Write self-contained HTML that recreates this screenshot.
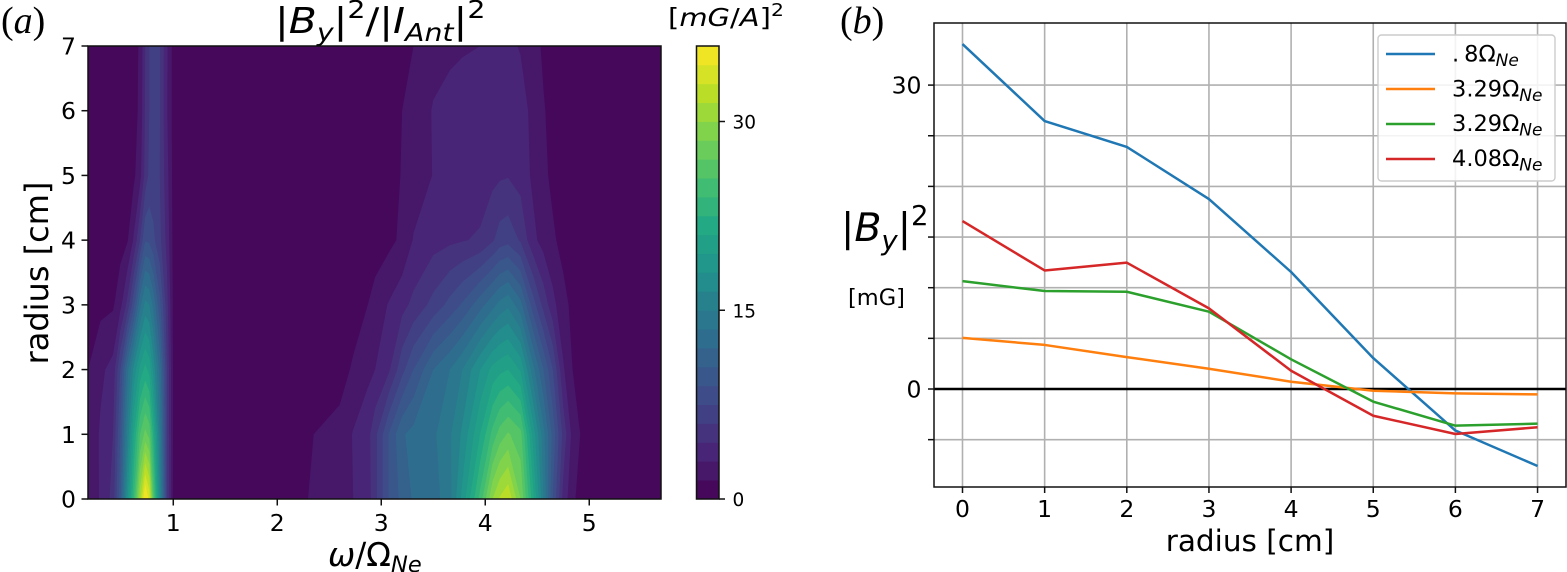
<!DOCTYPE html>
<html lang="en">
<head>
<meta charset="utf-8">
<title>Magnetic field spectrum and radial profiles</title>
<style>
html,body{margin:0;padding:0;background:#fff;}
svg{display:block;font-family:"DejaVu Sans","Liberation Sans",sans-serif;fill:#000;}
.serif{font-family:"Liberation Serif",serif;}
</style>
</head>
<body>
<svg id="fig" xmlns="http://www.w3.org/2000/svg" width="1567" height="572" viewBox="0 0 1567 572">
  <rect x="0" y="0" width="1567" height="572" fill="#fff"/>

  <text class="serif" x="1" y="33" font-size="38">(<tspan font-style="italic">a</tspan>)</text>
  <text class="serif" x="840" y="33" font-size="38">(<tspan font-style="italic">b</tspan>)</text>

  <text transform="translate(275,33) scale(1.135,1)" x="0" y="0" font-size="36">|<tspan font-style="italic">B</tspan><tspan font-size="25" font-style="italic" dy="8">y</tspan><tspan dy="-8">|</tspan><tspan font-size="25" dy="-15">2</tspan><tspan dy="15">/|</tspan><tspan font-style="italic">I</tspan><tspan font-size="25" font-style="italic" dy="8">Ant</tspan><tspan dy="-8">|</tspan><tspan font-size="25" dy="-15">2</tspan></text>

  <g id="contour"></g>
  <g id="leftAxes"></g>
  <text transform="translate(48,273) rotate(-90)" text-anchor="middle" font-size="32">radius [cm]</text>
  <text x="328" y="566" font-size="32.5"><tspan font-style="italic">ω</tspan>/Ω<tspan font-size="22.5" font-style="italic" dy="6">Ne</tspan></text>

  <g id="colorbar"></g>
  <text transform="translate(668,26) scale(1.16,1)" x="0" y="0" font-size="25">[<tspan font-style="italic">mG</tspan>/<tspan font-style="italic">A</tspan>]<tspan font-size="17.5" dy="-10">2</tspan></text>

  <g id="rightAxes"></g>
  <g id="rightLines"></g>
  <g id="rightFrame"></g>
  <text x="841" y="241" font-size="39.5">|<tspan font-style="italic">B</tspan><tspan font-size="27.5" font-style="italic" dy="9">y</tspan><tspan dy="-9">|</tspan><tspan font-size="27.5" dy="-16">2</tspan></text>
  <text x="848" y="305" font-size="22.5">[mG]</text>
  <text x="1250" y="551" text-anchor="middle" font-size="29.5">radius [cm]</text>

  <g>
    <rect x="1378" y="35" width="177" height="146" rx="3.5" ry="3.5" fill="#fff" fill-opacity="0.85" stroke="#cccccc" stroke-width="1.4"/>
    <line x1="1386" x2="1435" y1="54" y2="54" stroke="#1f77b4" stroke-width="2.5"/>
    <line x1="1386" x2="1435" y1="89" y2="89" stroke="#ff7f0e" stroke-width="2.5"/>
    <line x1="1386" x2="1435" y1="124" y2="124" stroke="#2ca02c" stroke-width="2.5"/>
    <line x1="1386" x2="1435" y1="159" y2="159" stroke="#d62728" stroke-width="2.5"/>
    <text x="1452" y="61.5" font-size="22.5">.<tspan dx="5">8Ω</tspan><tspan font-size="17" font-style="italic" dy="4.5">Ne</tspan></text>
    <text x="1452" y="96.5" font-size="22.5">3.29Ω<tspan font-size="17" font-style="italic" dy="4.5">Ne</tspan></text>
    <text x="1452" y="131" font-size="22.5">3.29Ω<tspan font-size="17" font-style="italic" dy="4.5">Ne</tspan></text>
    <text x="1452" y="166" font-size="22.5">4.08Ω<tspan font-size="17" font-style="italic" dy="4.5">Ne</tspan></text>
  </g>
</svg>

<script>
// ---- contour data: intensity [mG/A]^2 on a (frequency, radius) grid ----
const freqs = [0.18,0.3,0.42,0.49,0.56,0.62,0.68,0.73,0.77,0.81,0.87,0.94,1.0,1.1,2.2,2.35,2.6,2.73,2.87,2.94,3.07,3.2,3.31,3.5,3.66,3.78,3.95,4.07,4.14,4.22,4.34,4.46,4.56,4.65,4.75,4.84,4.95,5.69];
const radii = [0,1,2,3,4,5,6,7];
const powerR0 = [1.6,3.2,5,10,18,24,31,36.5,34,26,17,6,1.2,0.5,0.8,1.9,2.4,3,3.8,5.5,9,11,12.2,12.8,14.5,18.5,24.5,30,31.7,32.8,28.5,21.5,15,9,4,1.8,0.6,0.2];
const powerR1 = [1.8,3.2,4.5,9,15.5,21,25.5,27.5,26.5,22,15,6,1.3,0.5,0.4,1.5,2,3.1,4,5.5,9,11.8,12.5,13.2,14.8,16.8,21,24.5,26.2,27.2,26,19,14,10,5.5,2.5,1,0.2];
const powerR2 = [1.5,2.7,3.5,7.5,13,17,20,21.5,20.5,17.5,13,6,1.3,0.4,0.2,0.3,0.9,1.7,2.6,3,4.2,7,9,12,13.5,15,18,20,20.6,21,19.3,14,10.5,7.5,3.2,1.5,0.8,0.2];
const powerR3 = [0.8,1.1,1.3,2.5,5,8.5,13,15.5,15,13,9.5,5,1.2,0.4,0.1,0.1,0.3,0.8,1.5,2.1,3.1,4,4.9,6.5,8,9.2,11.4,13,14,14.7,12.5,8.2,5.5,3.5,1.9,1.2,0.6,0.1];
const powerR4 = [0.3,0.4,0.6,0.9,1.4,3.2,6,8.9,8.7,7.8,6.4,4,1.1,0.3,0.05,0.05,0.1,0.2,0.5,0.7,1.1,1.8,3.1,3.9,4.2,4.4,4.7,5.8,6.7,7,5.8,3.4,2.4,1.7,1.1,0.8,0.5,0.1];
const powerR5 = [0.2,0.2,0.3,0.5,0.9,1.2,2.5,5,6.4,6.7,6,3.5,1,0.3,0.05,0.05,0.05,0.1,0.2,0.3,0.8,1.6,2.2,3.05,3.2,3.4,3.7,4.1,4.3,4.4,3.9,2.7,1.8,1.2,0.8,0.5,0.3,0.1];
const powerR6 = [0.2,0.2,0.3,0.4,0.7,1,1.8,4.7,6,6.4,6.1,3.1,1,0.3,0.05,0.05,0.05,0.1,0.2,0.3,0.8,1.5,2.1,3.1,3.5,3.7,3.8,3.9,3.9,3.9,3.6,2.6,1.6,1.1,0.7,0.4,0.3,0.1];
const powerR7 = [0.2,0.2,0.3,0.4,0.6,1,1.7,4.5,6,6.2,6.1,3.2,1,0.3,0.05,0.05,0.05,0.1,0.2,0.3,0.6,1.1,1.5,2.5,2.7,2.85,3.0,3.4,3.4,3.3,2.9,2,1.3,0.9,0.6,0.4,0.3,0.1];
const powerRows = [powerR0,powerR1,powerR2,powerR3,powerR4,powerR5,powerR6,powerR7];
const contourXTicks = [1,2,3,4,5];
const contourYTicks = [0,1,2,3,4,5,6,7];
const colorbarTicks = [0,15,30];
const levelCount = 24;
const levelStep = 1.5;

// ---- line chart data ----
const radiusCategories = [0,1,2,3,4,5,6,7];
const seriesPoint8 = [34.05,26.45,23.9,18.75,11.55,3.05,-4.1,-7.6];
const series329a = [5.05,4.35,3.15,2.0,0.72,-0.17,-0.43,-0.53];
const series329b = [10.65,9.67,9.6,7.63,2.93,-1.25,-3.62,-3.42];
const series408 = [16.58,11.7,12.47,7.96,1.8,-2.64,-4.44,-3.78];
const lineXTicks = [0,1,2,3,4,5,6,7];
const lineYGrid = [-5,0,5,10,15,20,25,30];
const lineYLabels = {"0":"0","30":"30"};

const NS = 'http://www.w3.org/2000/svg';
function mk(tag, attrs, parent){
  const el = document.createElementNS(NS, tag);
  for (const k in attrs) el.setAttribute(k, attrs[k]);
  parent.appendChild(el);
  return el;
}
// viridis colormap anchors
const viridis = ['#440154','#482475','#414487','#355f8d','#2a788e','#21918c','#22a884','#44bf70','#7ad151','#bddf26','#fde725'];
function cmap(t){
  const p = Math.min(0.9999, Math.max(0, t)) * (viridis.length - 1);
  const i = Math.floor(p), f = p - i;
  const a = viridis[i], b = viridis[i + 1];
  const ch = s => [1,3,5].map(n => parseInt(s.substr(n, 2), 16));
  const A = ch(a), B = ch(b);
  return 'rgb(' + A.map((v, n) => Math.round(v + (B[n] - v) * f)).join(',') + ')';
}
function bandColor(k){ return cmap((k + 0.5) / levelCount); }

// ---- left panel axis functions ----
const L = {x0:88, x1:661, y0:499, y1:46};
const fMin = 0.18, fMax = 5.69, rMin = 0, rMax = 7;
const xF = f => L.x0 + (f - fMin) * (L.x1 - L.x0) / (fMax - fMin);
const yR = r => L.y0 - (r - rMin) * (L.y0 - L.y1) / (rMax - rMin);

// Filled contours: each band draws region z >= level over the previous band.
const contourG = document.getElementById('contour');
function clipCell(pts, level){
  const out = [];
  for (let i = 0; i < pts.length; i++){
    const a = pts[i], b = pts[(i + 1) % pts.length];
    const ina = a[2] >= level, inb = b[2] >= level;
    if (ina) out.push(a);
    if (ina !== inb){
      const t = (level - a[2]) / (b[2] - a[2]);
      out.push([a[0] + (b[0] - a[0]) * t, a[1] + (b[1] - a[1]) * t, level]);
    }
  }
  return out;
}
for (let k = 0; k < levelCount; k++){
  const level = k * levelStep;
  let d = '';
  for (let j = 0; j < radii.length - 1; j++){
    for (let i = 0; i < freqs.length - 1; i++){
      const cell = [
        [xF(freqs[i]),     yR(radii[j]),     powerRows[j][i]],
        [xF(freqs[i + 1]), yR(radii[j]),     powerRows[j][i + 1]],
        [xF(freqs[i + 1]), yR(radii[j + 1]), powerRows[j + 1][i + 1]],
        [xF(freqs[i]),     yR(radii[j + 1]), powerRows[j + 1][i]]
      ];
      const poly = clipCell(cell, level);
      if (poly.length > 2){
        d += 'M' + poly.map(p => p[0].toFixed(2) + ' ' + p[1].toFixed(2)).join('L') + 'Z';
      }
    }
  }
  if (!d) continue;
  const band = mk('path', {d: d, fill: bandColor(k)}, contourG);
  
  
}

// left axes
const leftAxes = document.getElementById('leftAxes');
const frameL = mk('rect', {x:L.x0, y:L.y1, width:L.x1 - L.x0, height:L.y0 - L.y1, fill:'none', stroke:'#111', 'stroke-width':1.5}, leftAxes);


contourXTicks.forEach(v => {
  const t = mk('line', {x1:xF(v), x2:xF(v), y1:L.y0, y2:L.y0 + 6.5, stroke:'#111', 'stroke-width':1.5}, leftAxes);
  
  
  const lbl = mk('text', {x:xF(v), y:531, 'text-anchor':'middle', 'font-size':23.5}, leftAxes);
  lbl.textContent = v;
  
  
});
contourYTicks.forEach(v => {
  const t = mk('line', {x1:L.x0 - 6.5, x2:L.x0, y1:yR(v), y2:yR(v), stroke:'#111', 'stroke-width':1.5}, leftAxes);
  
  
  const lbl = mk('text', {x:76, y:yR(v) + 8.5, 'text-anchor':'end', 'font-size':23.5}, leftAxes);
  lbl.textContent = v;
  
  
});

// colorbar
const CB = {x0:696.5, x1:719, y0:499, y1:46};
const yC = v => CB.y0 - v * (CB.y0 - CB.y1) / (levelCount * levelStep);
const cbG = document.getElementById('colorbar');
for (let k = 0; k < levelCount; k++){
  const r = mk('rect', {x:CB.x0, y:yC((k + 1) * levelStep), width:CB.x1 - CB.x0, height:yC(k * levelStep) - yC((k + 1) * levelStep) + 0.4, fill:bandColor(k)}, cbG);
  
  
}
const cbFrame = mk('rect', {x:CB.x0, y:CB.y1, width:CB.x1 - CB.x0, height:CB.y0 - CB.y1, fill:'none', stroke:'#111', 'stroke-width':1.5}, cbG);


colorbarTicks.forEach(v => {
  const t = mk('line', {x1:CB.x1, x2:CB.x1 + 6, y1:yC(v), y2:yC(v), stroke:'#111', 'stroke-width':1.5}, cbG);
  
  
  const lbl = mk('text', {x:732.5, y:yC(v) + 7, 'font-size':18.5}, cbG);
  lbl.textContent = v;
  
  
});

// ---- right panel axis functions ----
const R = {x0:934, x1:1566, y0:487, y1:23};
const xRad = r => 962.5 + r * 82.15;
const yVal = v => 389 - v * 10.13;
const rightAxes = document.getElementById('rightAxes');
lineXTicks.forEach(v => {
  const g = mk('line', {x1:xRad(v), x2:xRad(v), y1:R.y1, y2:R.y0, stroke:'#b0b0b0', 'stroke-width':1.6}, rightAxes);
  
  
  const t = mk('line', {x1:xRad(v), x2:xRad(v), y1:R.y0, y2:R.y0 + 6, stroke:'#111', 'stroke-width':1.5}, rightAxes);
  
  
  const lbl = mk('text', {x:xRad(v), y:517, 'text-anchor':'middle', 'font-size':23.5}, rightAxes);
  lbl.textContent = v;
  
  
});
lineYGrid.forEach(v => {
  const g = mk('line', {x1:R.x0, x2:R.x1, y1:yVal(v), y2:yVal(v), stroke:'#b0b0b0', 'stroke-width':1.6}, rightAxes);
  
  
  const t = mk('line', {x1:R.x0 - 6, x2:R.x0, y1:yVal(v), y2:yVal(v), stroke:'#111', 'stroke-width':1.5}, rightAxes);
  
  
  if (lineYLabels[v] !== undefined){
    const lbl = mk('text', {x:921.5, y:yVal(v) + 8.5, 'text-anchor':'end', 'font-size':23.5}, rightAxes);
    lbl.textContent = lineYLabels[v];
    
    
  }
});

const rightLines = document.getElementById('rightLines');
const zeroLine = mk('line', {x1:R.x0, x2:R.x1, y1:yVal(0), y2:yVal(0), stroke:'#000', 'stroke-width':2.5}, rightLines);


function drawSeries(values, color){
  const pts = values.map((v, i) => xRad(radiusCategories[i]).toFixed(2) + ',' + yVal(v).toFixed(2)).join(' ');
  return mk('polyline', {points:pts, fill:'none', stroke:color, 'stroke-width':2.5, 'stroke-linejoin':'round'}, rightLines);
}
const lineA = drawSeries(seriesPoint8, '#1f77b4');


const lineB = drawSeries(series329a, '#ff7f0e');


const lineC = drawSeries(series329b, '#2ca02c');


const lineD = drawSeries(series408, '#d62728');



const frameR = mk('rect', {x:R.x0, y:R.y1, width:R.x1 - R.x0, height:R.y0 - R.y1, fill:'none', stroke:'#111', 'stroke-width':1.5}, document.getElementById('rightFrame'));


</script>
</body>
</html>
